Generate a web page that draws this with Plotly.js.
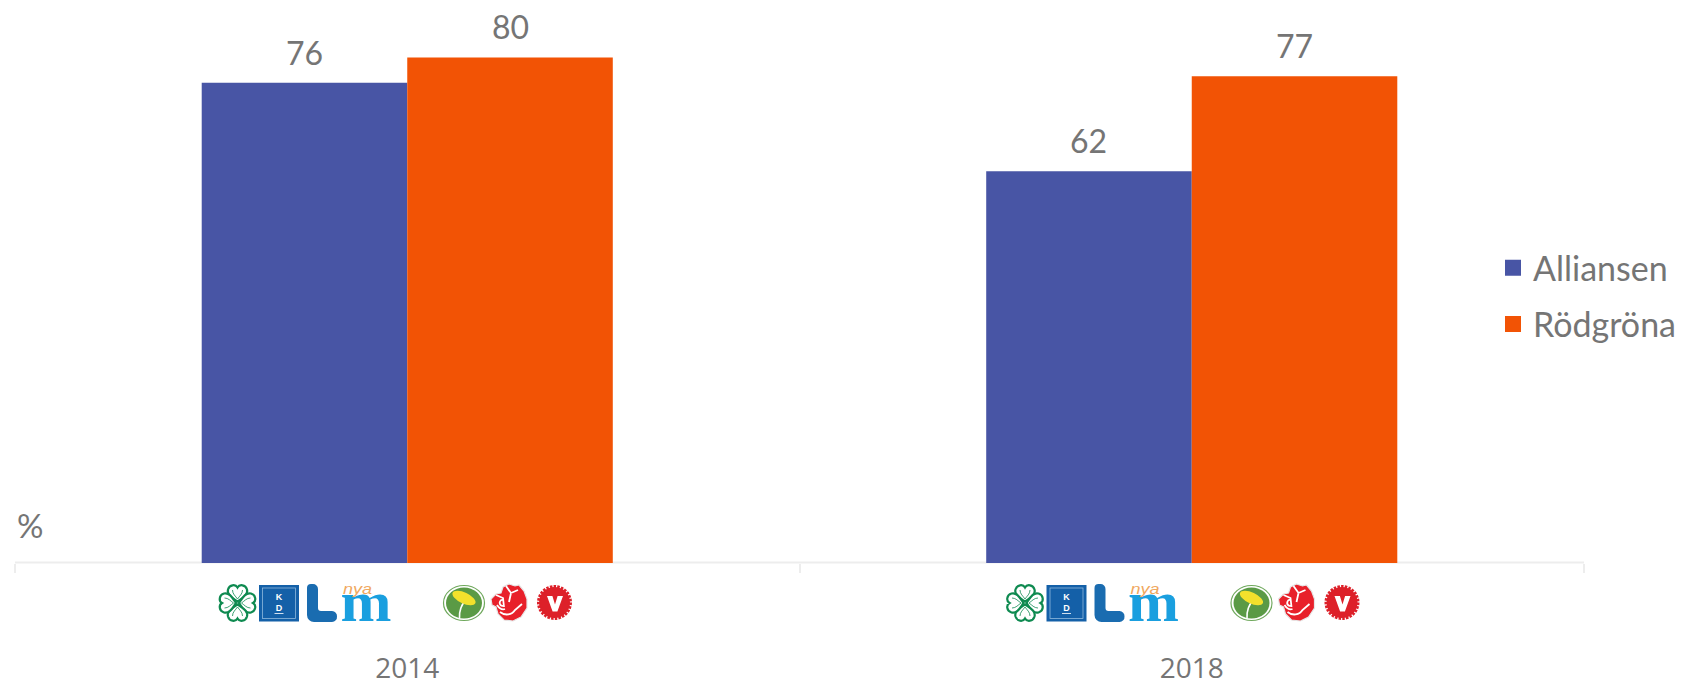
<!DOCTYPE html>
<html><head><meta charset="utf-8">
<script src="https://cdn.plot.ly/plotly-3.0.1.min.js"></script>
<style>html,body{margin:0;padding:0;background:#fff}#c{width:1684px;height:683px}</style></head>
<body><div id="c"></div>
<script>
const years = ['2014','2018'];
const alliansen = [76,62];
const rodgrona = [80,77];
const seriesNames = ['Alliansen','Rödgröna'];
const seriesColors = ['#4855A5','#F25305'];
const textGrey = '#757575';

function logos(){
  const g='#0e8a50';
  const lobe='M0,-1.5C-5,-5 -11,-8 -9.5,-13.5C-8,-18.5 -2,-19 0,-15.5C2,-19 8,-18.5 9.5,-13.5C11,-8 5,-5 0,-1.5Z';
  const inner='M0,-4C-2,-7 -5,-9 -5,-13M0,-4C2,-7 5,-9 5,-13';
  let clover='';
  [0,90,180,270].forEach(r=>{clover+=`<g transform="translate(237.5,603) rotate(${r})"><path d="${lobe}" fill="#fff" stroke="${g}" stroke-width="2.2"/><path d="${inner}" fill="none" stroke="${g}" stroke-width="0.8"/></g>`;});
  const kd=`<rect x="259" y="585" width="40" height="36.5" fill="#1460A8"/><rect x="262.5" y="588" width="33" height="30.5" fill="none" stroke="#8fb8dc" stroke-width="0.8"/>
  <text x="279" y="600" font-family="Liberation Sans" font-size="9" fill="#fff" text-anchor="middle" font-weight="bold">K</text>
  <text x="279" y="611" font-family="Liberation Sans" font-size="9" fill="#fff" text-anchor="middle" font-weight="bold">D</text>
  <rect x="274.5" y="613" width="9" height="0.8" fill="#fff"/>`;
  const L=`<path d="M307,588a4,4 0 0 1 4,-4h2a5,5 0 0 1 5,5v19a3,3 0 0 0 3,3h11a5,5 0 0 1 5,5.5a5,5 0 0 1 -5,5.5h-18a7,7 0 0 1 -7,-7z" fill="#1A6CB0"/>`;
  const m=`<text x="340.5" y="621" font-family="Liberation Serif" font-weight="bold" font-size="58" textLength="51" lengthAdjust="spacingAndGlyphs" fill="#1A9FDF">m</text>
  <text x="343" y="594" font-family="Liberation Sans" font-style="italic" font-size="15" textLength="29" lengthAdjust="spacingAndGlyphs" fill="#F0A860">nya</text>`;
  const mp=`<ellipse cx="464" cy="603" rx="20.5" ry="17.5" fill="#fff" stroke="#6FA85C" stroke-width="1.2"/><ellipse cx="464" cy="603" rx="18" ry="15.5" fill="#5A9A45"/>
  <path d="M459.5,618.5C459,611 461,605 466,600" fill="none" stroke="#fff" stroke-width="1.6"/>
  <ellipse cx="464" cy="598" rx="12.5" ry="5.5" transform="rotate(25 464 598)" fill="#F3E12C"/>`;
  const s=`<path d="M509,584l6,2l4,-1l5,6l3,8l0,9l-6,9l-8,4l-9,-1l-6,-6l-2,-7l-4,-2l-1,-6l5,-5l5,-1l2,-6z" fill="#E8202A" stroke="#e6e6e6" stroke-width="1.2"/>
  <path d="M496,595l7,3l1,9M506,586l5,7l7,-3M511,593l-2,9M500,612c5,4 12,3 15,-2l7,-6M497,605c2,3 5,5 8,4M503,600a2.5,3 0 1 0 1,5" fill="none" stroke="#fff" stroke-width="1.8"/>`;
  const v=`<circle cx="554.5" cy="602.5" r="15.5" fill="#DD2029"/><circle cx="554.5" cy="602.5" r="16" fill="none" stroke="#DD2029" stroke-width="3" stroke-dasharray="2.5 1.2"/>
  <path d="M547,596h5.4l2.6,8.5l2.6,-8.5h5.4l-5.6,15.5h-4.8z" fill="#fff"/>`;
  return `<svg xmlns="http://www.w3.org/2000/svg" width="720" height="92" viewBox="215 580 360 46">${clover}${kd}${L}${m}${mp}${s}${v}</svg>`;
}
const logoSrc='data:image/svg+xml;charset=utf-8,'+encodeURIComponent(logos());
const PW=1569;
const logoImg=(left)=>({source:logoSrc,xref:'paper',yref:'paper',x:(left-15)/PW,y:(563-580)/563,sizex:360/PW,sizey:46/563,xanchor:'left',yanchor:'top',sizing:'stretch',layer:'above'});

const mk=(name,vals,color)=>({type:'bar',name:name,x:years,y:vals,legendgroup:name,
  marker:{color:color,line:{width:0}},hoverinfo:'x+y+name'});
const data=[mk(seriesNames[0],alliansen,seriesColors[0]),mk(seriesNames[1],rodgrona,seriesColors[1])];
const barOffset=0.131;
const valueLabel=(vals,off)=>vals.map((v,i)=>({text:String(v),xref:'x',yref:'y',x:i+off,y:v,xanchor:'center',yanchor:'bottom',yshift:9,showarrow:false,font:{family:'Lato',size:32,color:textGrey}}));
const layout={width:1684,height:683,margin:{l:15,r:100,t:0,b:120,pad:0},paper_bgcolor:'#fff',plot_bgcolor:'#fff',
  barmode:'group',bargap:0.476,bargroupgap:0,showlegend:true,
  font:{family:'Lato',color:textGrey},
  xaxis:{type:'category',tickson:'boundaries',ticks:'outside',ticklen:9,tickwidth:2,tickcolor:'#EDEDED',showline:false,showgrid:false,zeroline:false,
    tickfont:{family:'Open Sans',size:28,color:textGrey},ticklabelstandoff:86},
  yaxis:{range:[0,89.08],visible:false,fixedrange:true},
  legend:{x:(1493-15)/PW,xanchor:'left',y:0.474,yanchor:'middle',traceorder:'grouped',tracegroupgap:9,font:{family:'Lato',size:34,color:textGrey},bgcolor:'rgba(0,0,0,0)'},
  shapes:[{type:'rect',layer:'below',xref:'paper',x0:0,x1:1,yref:'paper',ysizemode:'pixel',yanchor:0,y0:-0.5,y1:1.5,fillcolor:'#EDEDED',line:{width:0}}],
  images:[logoImg(215),logoImg(215+787.5)],
  annotations:[...valueLabel(alliansen,-barOffset),...valueLabel(rodgrona,barOffset),
    {text:'%',xref:'paper',yref:'paper',x:0,y:(563-525)/563,xanchor:'left',yanchor:'middle',showarrow:false,font:{family:'Lato',size:33,color:textGrey}}]
};
Plotly.newPlot('c',data,layout,{displayModeBar:false,staticPlot:true}).then(gd=>{
  gd.querySelectorAll('.legendbar path, .legendpoints path').forEach(p=>{p.setAttribute('d','M8,8H-8V-8H8Z');});
});
</script></body></html>
